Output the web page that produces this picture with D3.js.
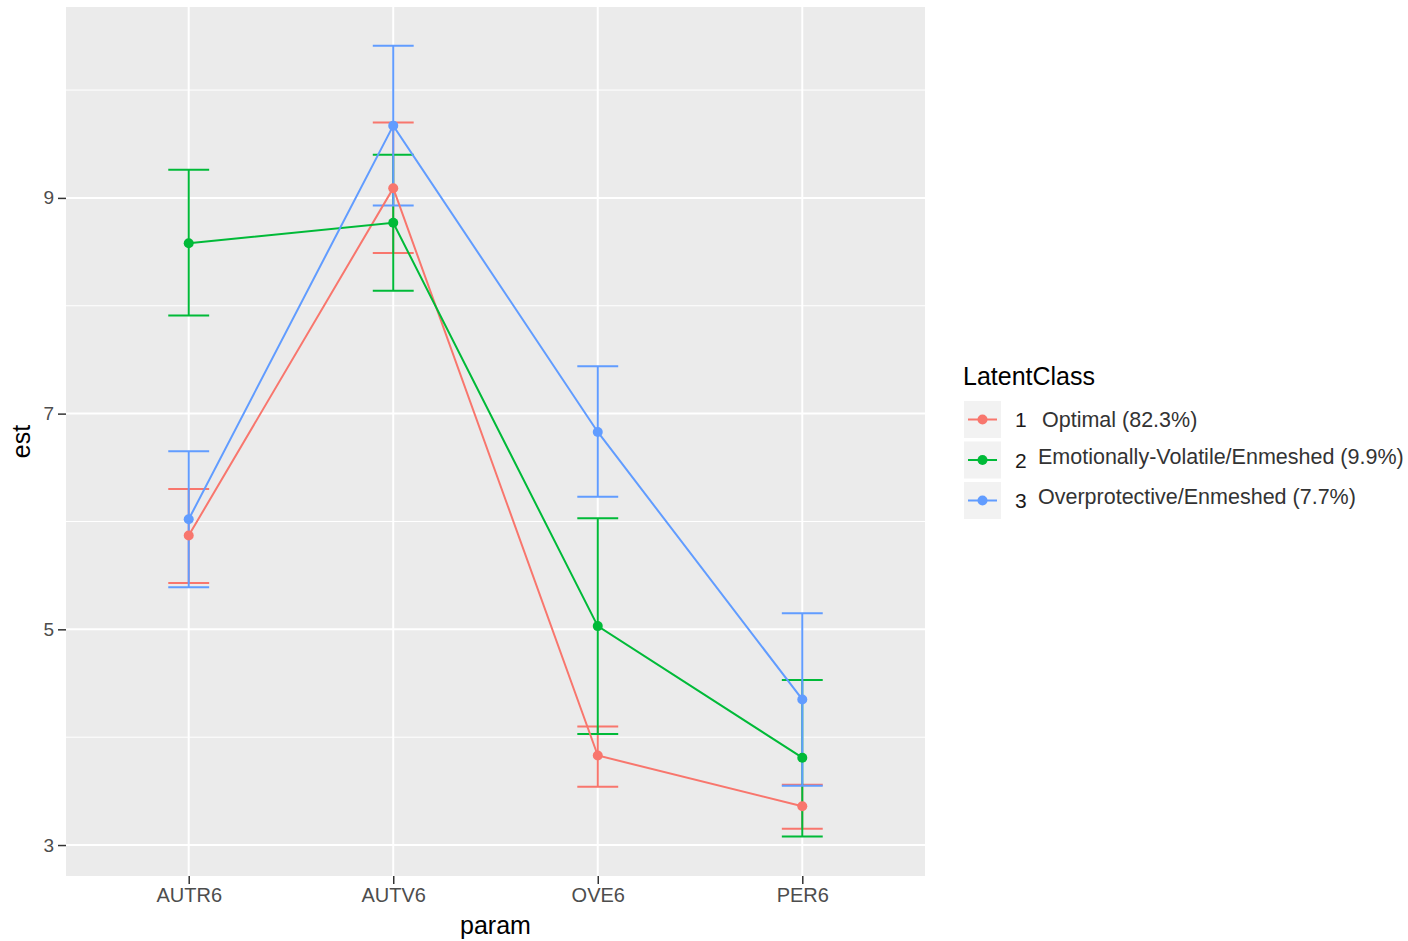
<!DOCTYPE html>
<html lang="en">
<head>
<meta charset="utf-8">
<title>est by param</title>
<script src="https://cdn.jsdelivr.net/npm/d3@7"></script>
<style>
    body { margin: 0; background: #fff; }
    text { font-family: "Liberation Sans", Arial, Helvetica, sans-serif; }
</style>
</head>
<body>
<svg id="chart" width="1408" height="941"></svg>
<script>
// data
var params = ["AUTR6", "AUTV6", "OVE6", "PER6"];
var classIds = ["1", "2", "3"];
var classLabels = ["Optimal (82.3%)", "Emotionally-Volatile/Enmeshed (9.9%)", "Overprotective/Enmeshed (7.7%)"];
var classColors = ["#F8766D", "#00BA38", "#619CFF"];

var est1 = [5.87, 9.09, 3.83, 3.36];
var lo1  = [5.43, 8.49, 3.54, 3.15];
var hi1  = [6.30, 9.70, 4.10, 3.56];

var est2 = [8.58, 8.77, 5.03, 3.81];
var lo2  = [7.91, 8.14, 4.03, 3.08];
var hi2  = [9.26, 9.40, 6.03, 4.53];

var est3 = [6.02, 9.67, 6.83, 4.35];
var lo3  = [5.39, 8.93, 6.23, 3.55];
var hi3  = [6.65, 10.41, 7.44, 5.15];

var yTicks = [3, 5, 7, 9];
var yMinor = [4, 6, 8, 10];

var series = [
    {id: classIds[0], label: classLabels[0], color: classColors[0], est: est1, lo: lo1, hi: hi1},
    {id: classIds[1], label: classLabels[1], color: classColors[1], est: est2, lo: lo2, hi: hi2},
    {id: classIds[2], label: classLabels[2], color: classColors[2], est: est3, lo: lo3, hi: hi3}
];

var svg = d3.select("#chart");
var panel = {left: 66, top: 7, right: 925, bottom: 876};

// discrete x with ggplot's 0.6 expansion
var x = d3.scalePoint()
    .domain(params)
    .range([panel.left, panel.right])
    .padding(0.6);
var step = x.step();

var y = d3.scaleLinear()
    .domain([2.713, 10.77])
    .range([panel.bottom, panel.top]);

svg.append("rect")
    .attr("x", panel.left).attr("y", panel.top)
    .attr("width", panel.right - panel.left)
    .attr("height", panel.bottom - panel.top)
    .attr("fill", "#EBEBEB");

// grid
svg.selectAll(".minor").data(yMinor).enter().append("line")
    .attr("x1", panel.left).attr("x2", panel.right)
    .attr("y1", d => y(d)).attr("y2", d => y(d))
    .attr("stroke", "#fff").attr("stroke-width", 1);

svg.selectAll(".majory").data(yTicks).enter().append("line")
    .attr("x1", panel.left).attr("x2", panel.right)
    .attr("y1", d => y(d)).attr("y2", d => y(d))
    .attr("stroke", "#fff").attr("stroke-width", 2);

svg.selectAll(".majorx").data(params).enter().append("line")
    .attr("x1", d => x(d)).attr("x2", d => x(d))
    .attr("y1", panel.top).attr("y2", panel.bottom)
    .attr("stroke", "#fff").attr("stroke-width", 2);

// axes
var yAxis = d3.axisLeft(y).tickValues(yTicks).tickSize(8).tickPadding(4);
var gy = svg.append("g").attr("transform", "translate(" + panel.left + ",0)").call(yAxis);
gy.select(".domain").remove();
gy.selectAll("line").attr("stroke", "#333").attr("stroke-width", 1.5);
gy.selectAll("text").attr("fill", "#4D4D4D").attr("font-size", 19)
    .attr("font-family", "Liberation Sans, Arial, sans-serif");

var xAxis = d3.axisBottom(x).tickSize(8).tickPadding(4);
var gx = svg.append("g").attr("transform", "translate(0," + panel.bottom + ")").call(xAxis);
gx.select(".domain").remove();
gx.selectAll("line").attr("stroke", "#333").attr("stroke-width", 1.5);
gx.selectAll("text").attr("fill", "#4D4D4D").attr("font-size", 20)
    .attr("font-family", "Liberation Sans, Arial, sans-serif");

svg.append("text")
    .attr("x", (panel.left + panel.right) / 2).attr("y", 934)
    .attr("text-anchor", "middle").attr("font-size", 25)
    .text("param");

svg.append("text")
    .attr("transform", "translate(30," + ((panel.top + panel.bottom) / 2) + ") rotate(-90)")
    .attr("text-anchor", "middle").attr("font-size", 25)
    .text("est");

// error bars, lines, points
var capHalf = step * 0.1;
var line = d3.line().x((d, i) => x(params[i])).y(d => y(d));

series.forEach(function (s) {
    var g = svg.append("g");
    params.forEach(function (p, i) {
        g.append("line")
            .attr("x1", x(p)).attr("x2", x(p))
            .attr("y1", y(s.lo[i])).attr("y2", y(s.hi[i]))
            .attr("stroke", s.color).attr("stroke-width", 2);
        [s.lo[i], s.hi[i]].forEach(function (v) {
            g.append("line")
                .attr("x1", x(p) - capHalf).attr("x2", x(p) + capHalf)
                .attr("y1", y(v)).attr("y2", y(v))
                .attr("stroke", s.color).attr("stroke-width", 2);
        });
    });
});

series.forEach(function (s) {
    svg.append("path")
        .datum(s.est)
        .attr("d", line)
        .attr("fill", "none")
        .attr("stroke", s.color).attr("stroke-width", 2);
    svg.append("g").selectAll("circle").data(s.est).enter().append("circle")
        .attr("cx", (d, i) => x(params[i]))
        .attr("cy", d => y(d))
        .attr("r", 5)
        .attr("fill", s.color);
});

// legend
var legend = svg.append("g");
legend.append("text")
    .attr("x", 963).attr("y", 385)
    .attr("font-size", 25).attr("fill", "#000")
    .text("LatentClass");

series.forEach(function (s, i) {
    var top = 401 + i * 40.5;
    var row = legend.append("g");
    row.append("rect")
        .attr("x", 964).attr("y", top)
        .attr("width", 37).attr("height", 37)
        .attr("fill", "#F2F2F2");
    row.append("line")
        .attr("x1", 968).attr("x2", 997)
        .attr("y1", top + 18.5).attr("y2", top + 18.5)
        .attr("stroke", s.color).attr("stroke-width", 2);
    row.append("circle")
        .attr("cx", 982.5).attr("cy", top + 18.5).attr("r", 5)
        .attr("fill", s.color);
    row.append("text")
        .attr("x", 1015).attr("y", top + 26)
        .attr("font-size", 21).attr("fill", "#1a1a1a")
        .text(s.id);
    row.append("text")
        .attr("x", i == 0 ? 1042 : 1038).attr("y", i == 0 ? top + 26 : top + 22)
        .attr("font-size", 21.5).attr("fill", "#333")
        .text(s.label);
});
</script>
</body>
</html>
